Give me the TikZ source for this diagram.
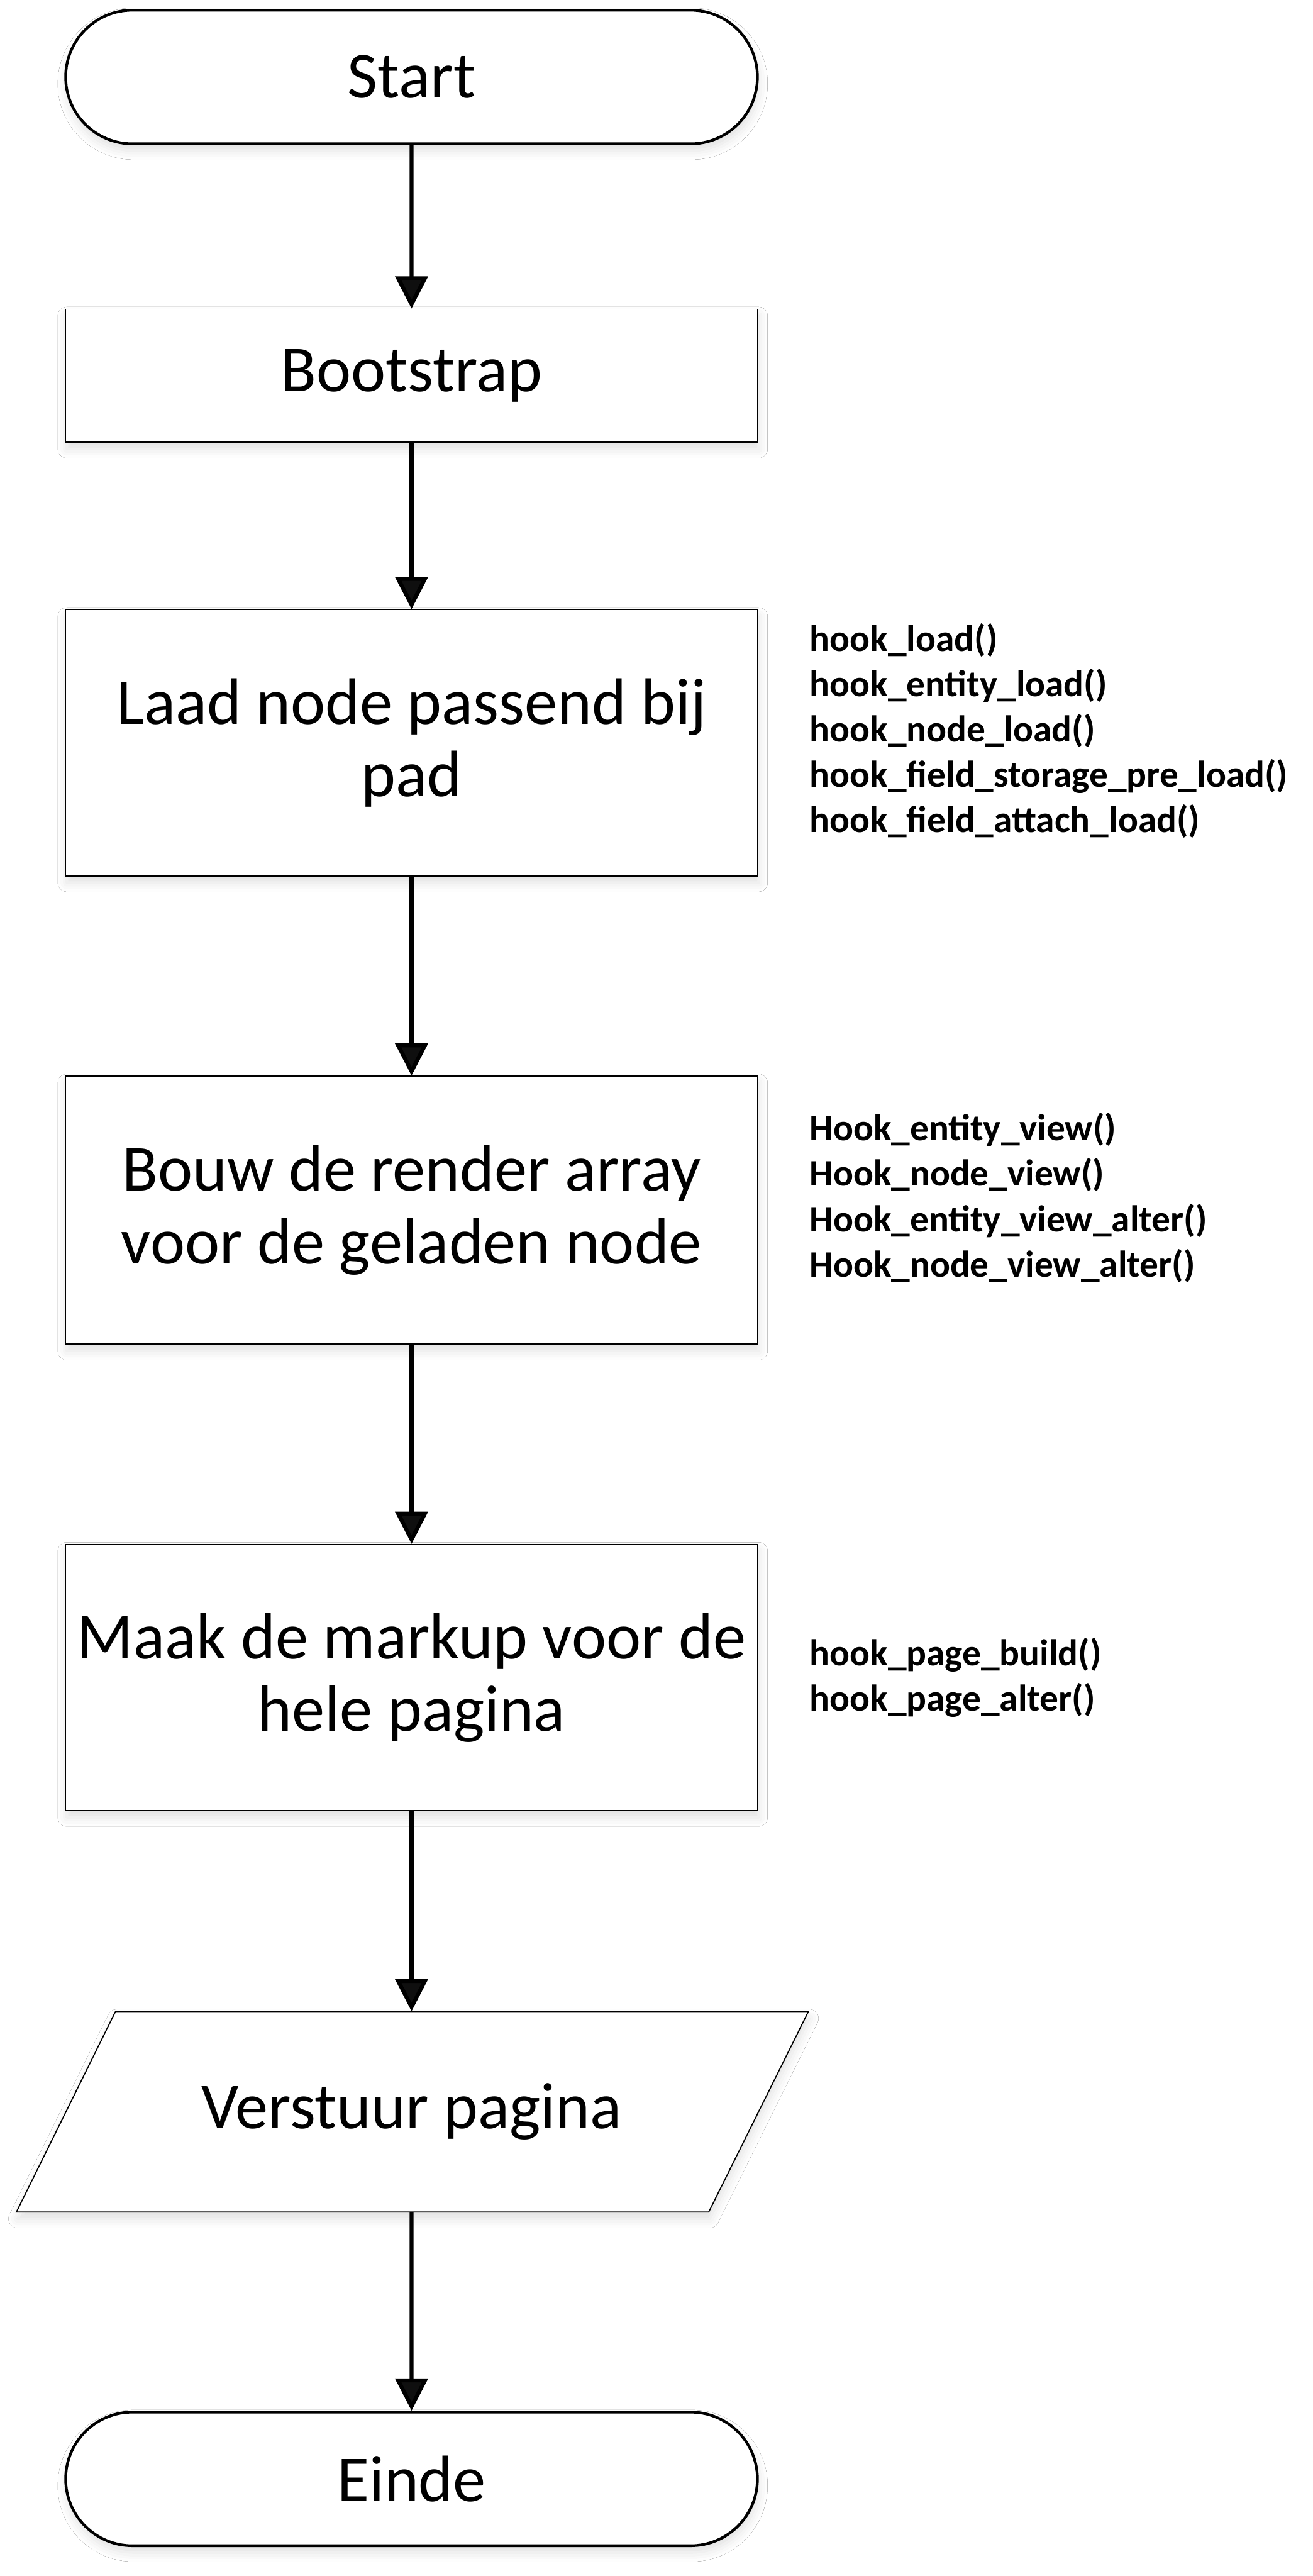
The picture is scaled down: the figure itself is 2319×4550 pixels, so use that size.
\documentclass[tikz,border=0pt]{standalone}
\usepackage{fontspec}
\setmainfont{Carlito}
\usetikzlibrary{arrows.meta,shapes.misc,shadows.blur}
\newcommand\mainfs{\fontsize{58}{64}\selectfont}
\newcommand\hookfs{\fontsize{33}{40}\selectfont\bfseries}
\begin{document}
\begin{tikzpicture}[x=0.5pt,y=-0.5pt,
  softshadow/.style={blur shadow={shadow xshift=1pt, shadow yshift=-6pt, shadow blur radius=8pt, shadow opacity=12}},
  plainbox/.style={minimum width=611pt, inner sep=0pt, align=center, font=\mainfs},
  box/.style={plainbox, draw=black, line width=1pt, fill=white, softshadow},
  term/.style={rounded rectangle, draw=black, line width=2.4pt, fill=white, minimum width=611pt, minimum height=118pt, inner sep=0pt, font=\mainfs, softshadow},
  flow/.style={line width=3.5pt, -{Triangle[width=28.5pt,length=28.5pt]}},
  hooks/.style={anchor=base west, inner sep=0pt, font=\hookfs}]
\useasboundingbox (0,0) rectangle (2319,4550);
\fill[white] (0,0) rectangle (2319,4550);

\node[term] (start) at (727,136) {Start};
\node[box, minimum height=117.5pt] (boot) at (727,663.5) {Bootstrap};
\node[box, minimum height=235pt] (laad) at (727,1312) {Laad node passend bij\\pad};
\node[box, minimum height=236.5pt] (bouw) at (727,2137.5) {Bouw de render array\\voor de geladen node};
\node[box, minimum height=235pt] (maak) at (727,2963) {Maak de markup voor de\\hele pagina};
\draw[line width=1pt, fill=white, softshadow] (204,3553) -- (1428,3553) -- (1252,3907) -- (29,3907) -- cycle;
\node[plainbox, minimum height=177pt] (verst) at (727,3730) {Verstuur pagina};
\node[term] (einde) at (727,4378.5) {Einde};

\draw[flow] (start) -- (boot);
\draw[flow] (boot) -- (laad);
\draw[flow] (laad) -- (bouw);
\draw[flow] (bouw) -- (maak);
\draw[flow] (maak) -- (verst.north);
\draw[flow] (verst.south) -- (einde);

\node[hooks] (hl) at (1430,1150) {\vtop{\hbox{hook\_load()}\hbox{hook\_entity\_load()}\hbox{hook\_node\_load()}\hbox{hook\_field\_storage\_pre\_load()}\hbox{hook\_field\_attach\_load()}}};
\node[hooks] (hv) at (1430,2015) {\vtop{\hbox{Hook\_entity\_view()}\hbox{Hook\_node\_view()}\hbox{Hook\_entity\_view\_alter()}\hbox{Hook\_node\_view\_alter()}}};
\node[hooks] (hp) at (1430,2942) {\vtop{\hbox{hook\_page\_build()}\hbox{hook\_page\_alter()}}};
\end{tikzpicture}
\end{document}
